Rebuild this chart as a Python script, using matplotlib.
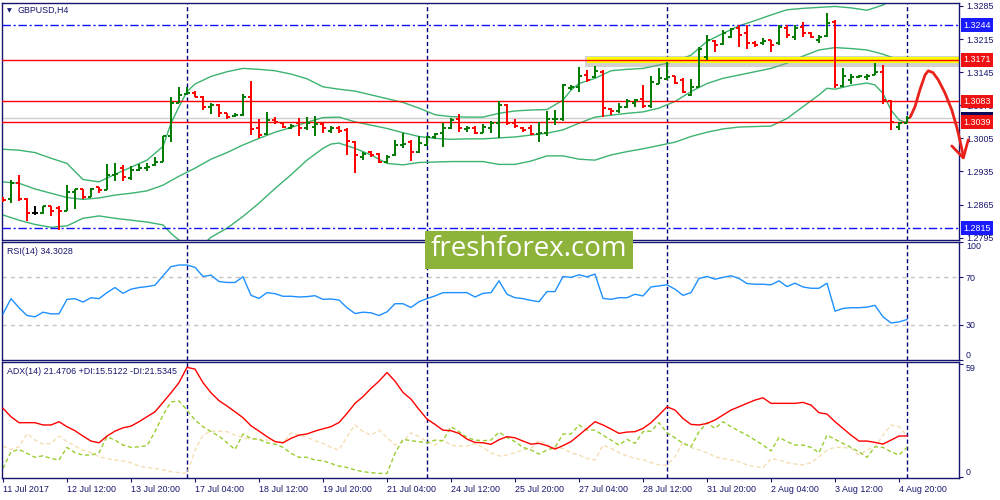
import matplotlib
matplotlib.use('Agg')
import matplotlib.pyplot as plt
import matplotlib.transforms as mtransforms
from matplotlib.collections import LineCollection
from matplotlib.patches import Rectangle

plt.rcParams['font.family'] = ['Liberation Sans', 'DejaVu Sans']

# ---------------- data ----------------
symbol = "GBPUSD,H4"
time_labels = ["11 Jul 2017", "12 Jul 12:00", "13 Jul 20:00", "17 Jul 04:00", "18 Jul 12:00",
               "19 Jul 20:00", "21 Jul 04:00", "24 Jul 12:00", "25 Jul 20:00", "27 Jul 04:00",
               "28 Jul 12:00", "31 Jul 20:00", "2 Aug 04:00", "3 Aug 12:00", "4 Aug 20:00"]
label_bars = [0, 8, 16, 24, 32, 40, 48, 56, 64, 72, 80, 88, 96, 104, 112]
week_bars = [23, 53, 83, 113]

opens = [1.2878, 1.2876, 1.2911, 1.2876, 1.2847, 1.2847, 1.2861, 1.2857, 1.2852, 1.2892,
         1.2897, 1.2880, 1.2902, 1.2896, 1.2928, 1.2942, 1.2921, 1.2938, 1.2942, 1.2949,
         1.2956, 1.3009, 1.3079, 1.3099, 1.3100, 1.3093, 1.3071, 1.3076, 1.3058, 1.3052,
         1.3055, 1.3093, 1.3026, 1.3014, 1.3044, 1.3037, 1.3028, 1.3037, 1.3026, 1.3030,
         1.3035, 1.3021, 1.3028, 1.3023, 1.2998, 1.2966, 1.2977, 1.2973, 1.2954, 1.2970,
         1.2991, 1.2998, 1.2977, 1.2991, 1.3007, 1.3016, 1.3026, 1.3045, 1.3024, 1.3026,
         1.3017, 1.3028, 1.3037, 1.3076, 1.3038, 1.3028, 1.3026, 1.3014, 1.3017, 1.3045,
         1.3045, 1.3111, 1.3113, 1.3139, 1.3134, 1.3146, 1.3067, 1.3062, 1.3071, 1.3079,
         1.3088, 1.3074, 1.3121, 1.3130, 1.3136, 1.3128, 1.3097, 1.3114, 1.3178, 1.3210,
         1.3205, 1.3219, 1.3238, 1.3227, 1.3207, 1.3206, 1.3212, 1.3206, 1.3238, 1.3220,
         1.3241, 1.3227, 1.3214, 1.3222, 1.3252, 1.3116, 1.3128, 1.3134, 1.3134, 1.3139,
         1.3146, 1.3083, 1.3030, 1.3038]
highs = [1.2882, 1.2917, 1.2928, 1.2878, 1.2861, 1.2863, 1.2863, 1.2863, 1.2906, 1.2899,
         1.2899, 1.2901, 1.2903, 1.2951, 1.2952, 1.2949, 1.2947, 1.2950, 1.2952, 1.2966,
         1.3010, 1.3093, 1.3113, 1.3113, 1.3105, 1.3095, 1.3079, 1.3077, 1.3058, 1.3059,
         1.3098, 1.3126, 1.3047, 1.3060, 1.3050, 1.3038, 1.3035, 1.3049, 1.3051, 1.3052,
         1.3037, 1.3031, 1.3031, 1.3026, 1.2999, 1.2977, 1.2979, 1.2975, 1.2970, 1.3002,
         1.3017, 1.3002, 1.3010, 1.3010, 1.3017, 1.3038, 1.3049, 1.3056, 1.3031, 1.3031,
         1.3035, 1.3042, 1.3083, 1.3077, 1.3047, 1.3030, 1.3033, 1.3040, 1.3062, 1.3066,
         1.3121, 1.3118, 1.3157, 1.3150, 1.3158, 1.3150, 1.3069, 1.3079, 1.3088, 1.3088,
         1.3118, 1.3136, 1.3153, 1.3167, 1.3137, 1.3132, 1.3131, 1.3199, 1.3224, 1.3212,
         1.3234, 1.3238, 1.3245, 1.3245, 1.3210, 1.3217, 1.3213, 1.3245, 1.3245, 1.3245,
         1.3252, 1.3231, 1.3224, 1.3270, 1.3255, 1.3153, 1.3141, 1.3139, 1.3141, 1.3164,
         1.3160, 1.3086, 1.3040, 1.3052]
lows = [1.2871, 1.2868, 1.2873, 1.2831, 1.2843, 1.2845, 1.2841, 1.2811, 1.2852, 1.2855,
        1.2876, 1.2880, 1.2890, 1.2896, 1.2914, 1.2914, 1.2918, 1.2935, 1.2935, 1.2947,
        1.2956, 1.2998, 1.3079, 1.3099, 1.3093, 1.3066, 1.3056, 1.3050, 1.3045, 1.3051,
        1.3052, 1.3012, 1.3005, 1.3012, 1.3035, 1.3028, 1.3024, 1.3009, 1.3023, 1.3010,
        1.3016, 1.3017, 1.3016, 1.2970, 1.2932, 1.2959, 1.2966, 1.2952, 1.2952, 1.2968,
        1.2984, 1.2958, 1.2975, 1.2988, 1.3003, 1.2986, 1.3024, 1.3019, 1.3019, 1.3014,
        1.3017, 1.3016, 1.3005, 1.3033, 1.3028, 1.3019, 1.3012, 1.2998, 1.3009, 1.3033,
        1.3042, 1.3107, 1.3104, 1.3125, 1.3132, 1.3051, 1.3055, 1.3058, 1.3069, 1.3072,
        1.3069, 1.3069, 1.3120, 1.3128, 1.3121, 1.3100, 1.3095, 1.3113, 1.3171, 1.3188,
        1.3203, 1.3217, 1.3199, 1.3195, 1.3199, 1.3203, 1.3188, 1.3203, 1.3217, 1.3213,
        1.3220, 1.3217, 1.3206, 1.3219, 1.3111, 1.3113, 1.3121, 1.3132, 1.3128, 1.3139,
        1.3078, 1.3023, 1.3023, 1.3038]
closes = [1.2875, 1.2911, 1.2876, 1.2847, 1.2847, 1.2861, 1.2852, 1.2852, 1.2892, 1.2897,
          1.2880, 1.2899, 1.2896, 1.2928, 1.2930, 1.2923, 1.2938, 1.2942, 1.2945, 1.2956,
          1.3009, 1.3079, 1.3097, 1.3100, 1.3093, 1.3072, 1.3076, 1.3058, 1.3051, 1.3055,
          1.3093, 1.3024, 1.3012, 1.3044, 1.3040, 1.3030, 1.3031, 1.3028, 1.3037, 1.3035,
          1.3026, 1.3026, 1.3021, 1.2999, 1.2970, 1.2973, 1.2970, 1.2956, 1.2966, 1.2991,
          1.2993, 1.2977, 1.2996, 1.3007, 1.3014, 1.3026, 1.3044, 1.3026, 1.3028, 1.3016,
          1.3030, 1.3038, 1.3076, 1.3037, 1.3031, 1.3023, 1.3014, 1.3017, 1.3047, 1.3047,
          1.3118, 1.3114, 1.3137, 1.3128, 1.3148, 1.3069, 1.3062, 1.3072, 1.3083, 1.3086,
          1.3074, 1.3125, 1.3132, 1.3134, 1.3123, 1.3104, 1.3113, 1.3193, 1.3214, 1.3203,
          1.3227, 1.3236, 1.3224, 1.3207, 1.3203, 1.3210, 1.3203, 1.3240, 1.3224, 1.3238,
          1.3227, 1.3220, 1.3219, 1.3248, 1.3118, 1.3136, 1.3134, 1.3136, 1.3137, 1.3146,
          1.3086, 1.3040, 1.3037, 1.3048]

bb_upper_bars = [0, 2, 4, 6, 8, 10, 12, 14, 16, 18, 20, 21, 22, 23, 24, 26, 28, 30, 32, 34,
                 36, 38, 40, 42, 44, 46, 48, 50, 52, 54, 56, 58, 60, 62, 64, 66, 68, 70, 71, 72,
                 74, 76, 78, 80, 82, 84, 86, 88, 90, 92, 94, 96, 98, 100, 102, 104, 106, 108, 110,
                 111, 112, 113]
bb_upper = [1.2982, 1.2980, 1.2975, 1.2963, 1.2952, 1.2918, 1.2913, 1.2929, 1.2944, 1.2959,
            1.2988, 1.3037, 1.3072, 1.3104, 1.3120, 1.3136, 1.3146, 1.3153, 1.3151, 1.3148,
            1.3141, 1.3131, 1.3114, 1.3109, 1.3105, 1.3097, 1.3089, 1.3081, 1.3069, 1.3055,
            1.3051, 1.3050, 1.3050, 1.3058, 1.3063, 1.3065, 1.3066, 1.3086, 1.3107, 1.3121,
            1.3132, 1.3148, 1.3151, 1.3153, 1.3160, 1.3168, 1.3181, 1.3210, 1.3227, 1.3243,
            1.3254, 1.3266, 1.3277, 1.3280, 1.3282, 1.3284, 1.3281, 1.3276, 1.3287,
            1.3298, 1.3308, 1.3319]
bb_mid_bars = list(range(0, 113, 2)) + [113]
bb_mid = [1.2913, 1.2910, 1.2898, 1.2889, 1.2880, 1.2876, 1.2879, 1.2885, 1.2889, 1.2894,
          1.2906, 1.2925, 1.2942, 1.2961, 1.2975, 1.2991, 1.3005, 1.3018, 1.3028, 1.3039,
          1.3049, 1.3050, 1.3040, 1.3033, 1.3026, 1.3017, 1.3009, 1.3005, 1.3003, 1.3004,
          1.3004, 1.3006, 1.3008, 1.3012, 1.3016, 1.3023, 1.3037, 1.3050, 1.3054, 1.3058,
          1.3061, 1.3069, 1.3083, 1.3104, 1.3121, 1.3132, 1.3139, 1.3146, 1.3153, 1.3164,
          1.3179, 1.3192, 1.3197, 1.3195, 1.3192, 1.3183, 1.3171, 1.3167]
bb_lower_bars = [0, 2, 4, 6, 8, 10, 12, 14, 16, 18, 20, 21, 22, 23, 24, 25, 26, 28, 30, 32,
                 34, 36, 38, 40, 41, 42, 44, 46, 48, 50, 52, 54, 56, 58, 60, 62, 64, 66, 68, 70,
                 72, 74, 76, 78, 80, 82, 84, 86, 88, 90, 92, 94, 96, 98, 100, 102, 103, 104, 106,
                 108, 109, 110, 111, 112, 113]
bb_lower = [1.2843, 1.2832, 1.2823, 1.2817, 1.2820, 1.2836, 1.2841, 1.2836, 1.2832, 1.2828,
            1.2822, 1.2804, 1.2790, 1.2776, 1.2772, 1.2780, 1.2796, 1.2815, 1.2840, 1.2868,
            1.2899, 1.2928, 1.2959, 1.2984, 1.2993, 1.2995, 1.2984, 1.2970, 1.2952, 1.2949,
            1.2954, 1.2955, 1.2956, 1.2956, 1.2956, 1.2950, 1.2950, 1.2957, 1.2968, 1.2968,
            1.2961, 1.2959, 1.2970, 1.2977, 1.2983, 1.2990, 1.2997, 1.3009, 1.3018, 1.3025,
            1.3029, 1.3030, 1.3031, 1.3047, 1.3072, 1.3097, 1.3111, 1.3109, 1.3117,
            1.3122, 1.3118, 1.3100, 1.3065, 1.3044, 1.3038]

rsi = [39.1, 52.0, 44.3, 37.7, 36.6, 40.5, 39.1, 39.1, 51.4, 52.0,
       49.1, 52.8, 52.0, 57.1, 61.4, 56.5, 60.0, 61.4, 62.2, 63.4,
       71.4, 79.1, 80.5, 80.5, 78.5, 70.8, 71.9, 66.5, 65.7, 65.7,
       70.5, 54.8, 52.2, 57.1, 56.2, 54.0, 54.0, 53.4, 53.7, 54.5,
       51.4, 51.7, 50.8, 44.3, 39.4, 40.5, 40.0, 37.7, 40.8, 47.7,
       47.7, 44.5, 49.4, 52.0, 54.3, 57.1, 57.1, 57.1, 57.1, 53.4,
       56.5, 57.1, 67.1, 55.7, 52.8, 52.0, 50.5, 49.4, 58.0, 58.0,
       70.8, 70.0, 72.2, 70.5, 72.8, 52.2, 51.4, 52.8, 52.8, 55.7,
       54.3, 61.9, 62.8, 63.7, 60.0, 54.8, 57.1, 69.1, 70.8, 68.5,
       70.0, 71.4, 69.1, 64.8, 64.2, 64.2, 63.7, 67.1, 62.2, 65.1,
       61.9, 60.8, 60.8, 65.1, 41.4, 43.7, 44.3, 44.3, 44.8, 46.3,
       36.6, 31.4, 32.3, 34.3]
rsi_levels = [30, 70]

adx = [35.9, 31.5, 28.4, 28.4, 28.4, 27.2, 27.2, 28.9, 26.3, 24.2,
       21.4, 18.8, 17.9, 21.4, 24.0, 25.7, 26.6, 28.9, 31.5, 34.1,
       39.0, 44.0, 49.3, 57.3, 56.4, 49.3, 44.0, 39.9, 37.1, 34.1,
       31.0, 26.8, 24.0, 21.1, 18.5, 17.9, 20.2, 21.9, 22.5, 24.0,
       25.2, 26.3, 28.5, 33.2, 38.5, 42.0, 46.3, 50.1, 54.6, 50.1,
       44.2, 40.7, 35.3, 30.3, 27.5, 24.5, 24.2, 22.8, 19.8, 18.1,
       17.9, 17.1, 19.5, 21.1, 20.5, 18.8, 17.2, 17.6, 16.4, 14.6,
       16.4, 18.5, 21.9, 25.4, 28.9, 27.2, 25.1, 22.8, 23.5, 23.7,
       25.4, 28.4, 32.4, 36.7, 35.0, 30.6, 27.5, 27.2, 28.0, 29.8,
       32.4, 35.0, 36.7, 38.5, 40.2, 41.4, 38.5, 38.5, 38.5, 38.5,
       39.0, 37.6, 33.6, 32.9, 28.9, 25.4, 21.9, 18.8, 18.8, 18.1,
       17.2, 19.3, 21.4, 21.5]
plus_di = [4.5, 13.2, 14.4, 12.4, 10.3, 11.1, 9.7, 8.9, 15.5, 12.7,
           11.5, 11.5, 12.7, 21.1, 19.3, 16.7, 15.5, 15.8, 16.4, 23.7,
           32.4, 39.3, 39.7, 35.0, 29.8, 26.3, 23.7, 21.4, 17.9, 14.4,
           22.5, 20.2, 19.7, 17.9, 17.2, 15.5, 12.4, 10.3, 10.3, 8.9,
           8.5, 7.1, 5.7, 5.0, 3.7, 2.8, 2.3, 1.9, 1.9, 12.4,
           19.7, 19.0, 18.5, 17.9, 19.3, 19.0, 26.3, 23.7, 20.7, 19.3,
           19.0, 19.3, 23.5, 20.7, 18.5, 15.5, 14.1, 12.0, 14.1, 15.5,
           22.5, 22.5, 27.2, 24.5, 24.5, 21.9, 19.3, 16.7, 19.7, 17.6,
           23.7, 24.0, 28.4, 23.1, 20.5, 17.6, 15.8, 23.7, 28.4, 25.4,
           28.9, 26.3, 24.0, 21.9, 19.3, 16.7, 13.6, 20.7, 18.5, 16.7,
           16.7, 15.5, 12.7, 21.9, 19.7, 17.6, 15.5, 13.2, 10.3, 15.8,
           15.5, 13.2, 11.5, 15.5]
minus_di = [16.2, 14.4, 15.8, 22.8, 19.3, 17.2, 17.6, 21.4, 18.5, 16.2,
            14.1, 12.7, 10.6, 9.7, 8.9, 8.4, 7.5, 5.7, 5.0, 4.5,
            3.7, 2.8, 2.3, 1.9, 14.1, 21.9, 24.0, 24.0, 23.7, 21.9,
            20.7, 19.7, 19.8, 19.3, 18.8, 17.9, 23.1, 21.9, 20.7, 19.0,
            17.6, 15.5, 14.1, 21.1, 27.2, 23.7, 21.9, 24.5, 20.7, 16.7,
            18.5, 23.1, 21.1, 18.5, 16.7, 19.3, 16.7, 16.2, 16.2, 17.6,
            15.5, 12.7, 11.0, 11.5, 12.7, 14.1, 15.0, 19.3, 16.7, 15.5,
            15.0, 12.7, 11.5, 9.7, 8.9, 16.7, 15.0, 12.7, 11.0, 9.7,
            9.2, 7.5, 6.3, 6.3, 10.6, 18.5, 15.5, 14.1, 12.7, 10.6,
            9.7, 8.9, 8.0, 6.3, 5.4, 4.9, 9.7, 8.9, 7.5, 6.8,
            6.3, 7.5, 10.6, 14.1, 15.5, 15.5, 15.0, 11.5, 14.1, 15.8,
            21.9, 27.2, 26.3, 21.5]

red_levels = [1.3171, 1.3083, 1.3039]
blue_levels = [1.3244, 1.2815]
highlight_level = 1.3171
highlight_start_bar = 72.8
price_ticks = [1.2795, 1.2865, 1.2935, 1.3005, 1.3075, 1.3145, 1.3215, 1.3285]

# hand-drawn forecast arrow (bar index, price)
arrow_x = [113.4, 114.0, 114.6, 115.25, 115.66, 116.25, 116.9, 117.75, 118.6, 119.2, 119.6, 119.96, 120.04]
arrow_y = [1.3050, 1.3072, 1.3107, 1.3139, 1.3148, 1.3144, 1.3129, 1.3101, 1.3065, 1.3030, 1.3002, 1.2974, 1.2964]
arrow_head_x = [118.6, 120.04, 120.66]
arrow_head_y = [1.2989, 1.2964, 1.3002]

# ---------------- styling ----------------
NAVY = '#16166e'
FS = 6.4
W, H = 1000, 500
fig = plt.figure(figsize=(10, 5), dpi=100)
fig.patch.set_facecolor('white')


def box(x0, y0, x1, y1):
    return [x0 / W, 1 - y1 / H, (x1 - x0) / W, (y1 - y0) / H]


ax1 = fig.add_axes(box(2, 3, 959, 240))
ax2 = fig.add_axes(box(2, 242, 959, 360))
ax3 = fig.add_axes(box(2, 362, 959, 478))
XMIN, XMAX = -0.125, 119.5

for ax in (ax1, ax2, ax3):
    ax.set_xlim(XMIN, XMAX)
    for s in ax.spines.values():
        s.set_color(NAVY)
        s.set_linewidth(1.0)
    ax.yaxis.tick_right()
    ax.tick_params(axis='y', direction='out', length=3, width=0.8, color=NAVY,
                   labelsize=FS, labelcolor=NAVY, pad=2)
    for wb in week_bars:
        ax.axvline(wb, color='#000080', lw=1.0, ls=(0, (3, 2)), zorder=1)

ax1.set_xticks([])
ax2.set_xticks([])

# ---------- price panel ----------
ax1.set_ylim(1.27901, 1.32913)
ax1.set_yticks(price_ticks)
ax1.set_yticklabels([f'{v:.4f}' for v in price_ticks])

# highlight band
ax1.fill_between([highlight_start_bar, XMAX], highlight_level - 0.0015, highlight_level + 0.0009,
                 color='#9a9a9a', alpha=0.45, lw=0, zorder=2.3)
ax1.fill_between([highlight_start_bar + 0.2, XMAX], highlight_level - 0.0007, highlight_level + 0.0007,
                 color='#ffff00', lw=0, zorder=2.5)

# horizontal levels
ax1.axhline(closes[-1], color='#cfcfcf', lw=1.0, zorder=1.5)
for lv in red_levels:
    ax1.axhline(lv, color='#ff0000', lw=1.0, zorder=2.6)
for lv in blue_levels:
    ax1.axhline(lv, color='#1010ff', lw=1.0, ls=(0, (6, 2, 1.5, 2)), zorder=2.6)

# Bollinger bands
bb_col = '#3cb371'
ax1.plot(bb_upper_bars, bb_upper, color=bb_col, lw=1.0, zorder=2)
ax1.plot(bb_mid_bars, bb_mid, color=bb_col, lw=1.0, zorder=2)
ax1.plot(bb_lower_bars, bb_lower, color=bb_col, lw=1.0, zorder=2)

# OHLC bars
segs, cols = [], []
tick = 0.4
for i, (o, h, l, c) in enumerate(zip(opens, highs, lows, closes)):
    col = '#007a00' if c > o else ('#ff0000' if c < o else '#000000')
    segs += [[(i, l), (i, h)], [(i - tick, o), (i, o)], [(i, c), (i + tick, c)]]
    cols += [col] * 3
ax1.add_collection(LineCollection(segs, colors=cols, linewidths=1.4, zorder=3, capstyle='butt'))

# right-axis boxed labels
bt = mtransforms.blended_transform_factory(ax1.transAxes, ax1.transData)
# current-price marker (mostly hidden behind the 1.3039 label, as in the reference)
ax1.add_patch(Rectangle((1.002, closes[-1] - 0.0008), 0.0335, 0.0021, transform=bt,
                        fc='#0a0a5a', ec='none', clip_on=False, zorder=9))
for lv in red_levels:
    ax1.text(1.0045, lv, f'{lv:.4f}', transform=bt, ha='left', va='center', fontsize=FS,
             color='white', clip_on=False, zorder=10,
             bbox=dict(boxstyle='square,pad=0.28', fc='#ee1111', ec='none'))
for lv in blue_levels:
    ax1.text(1.0045, lv, f'{lv:.4f}', transform=bt, ha='left', va='center', fontsize=FS,
             color='white', clip_on=False, zorder=10,
             bbox=dict(boxstyle='square,pad=0.28', fc='#1a1aff', ec='none'))

# forecast arrow
ax1.plot(arrow_x, arrow_y, color='#e8221a', lw=2.0, solid_capstyle='round',
         solid_joinstyle='round', clip_on=False, zorder=12)
ax1.plot(arrow_head_x, arrow_head_y, color='#e8221a', lw=2.0, solid_capstyle='round',
         solid_joinstyle='round', clip_on=False, zorder=12)

# ---------- RSI panel ----------
ax2.set_ylim(0, 100)
ax2.set_yticks([0, 30, 70, 100])
ax2.set_yticklabels(['0', '30', '70', '100'])
lbls = ax2.get_yticklabels()
lbls[0].set_va('bottom')
lbls[3].set_va('top')
for lv in rsi_levels:
    ax2.axhline(lv, color='#c4c4c4', lw=1.0, ls=(0, (3, 3)), zorder=1)
ax2.plot(range(len(rsi)), rsi, color='#1e90ff', lw=1.0, zorder=3)

# ---------- ADX panel ----------
ax3.set_ylim(-0.5, 60.1)
ax3.set_yticks([0, 59])
ax3.set_yticklabels(['0', '59'])
lbls = ax3.get_yticklabels()
lbls[0].set_va('bottom')
lbls[1].set_va('top')
ax3.plot(range(len(minus_di)), minus_di, color='#f5deb3', lw=1.0, ls=(0, (3, 2)), zorder=2)
ax3.plot(range(len(plus_di)), plus_di, color='#9acd32', lw=1.0, ls=(0, (3, 2)), zorder=2.5)
ax3.plot(range(len(adx)), adx, color='#ff0000', lw=1.0, zorder=3)
ax3.set_xticks(label_bars)
ax3.set_xticklabels(time_labels)
for t in ax3.get_xticklabels():
    t.set_ha('left')
ax3.tick_params(axis='x', direction='out', length=3, width=0.8, color=NAVY,
                labelsize=FS, labelcolor=NAVY, pad=2)

# ---------- headers ----------
fig.text(6.5 / W, 1 - 10.5 / H, '▼', fontsize=4.5, color=NAVY, ha='left', va='center',
         family=['DejaVu Sans'])
fig.text(18 / W, 1 - 10.5 / H, symbol, fontsize=FS, color=NAVY, ha='left', va='center')
fig.text(7 / W, 1 - 251.5 / H, 'RSI(14) 34.3028',
         fontsize=FS, color=NAVY, ha='left', va='center')
fig.text(7 / W, 1 - 372 / H, 'ADX(14) 21.4706 +DI:15.5122 -DI:21.5345',
         fontsize=FS, color=NAVY, ha='left', va='center')

# ---------- watermark ----------
fig.add_artist(Rectangle((425 / W, 1 - 269 / H), 208 / W, 38 / H, transform=fig.transFigure,
                         fc='#8db33a', ec='none', zorder=20))
fig.text(529 / W, 1 - 249 / H, 'freshforex.com', fontsize=20, color='white', ha='center',
         va='center', family=['Open Sans', 'DejaVu Sans'], zorder=21)

fig.savefig('out.png', dpi=100, facecolor='white')
